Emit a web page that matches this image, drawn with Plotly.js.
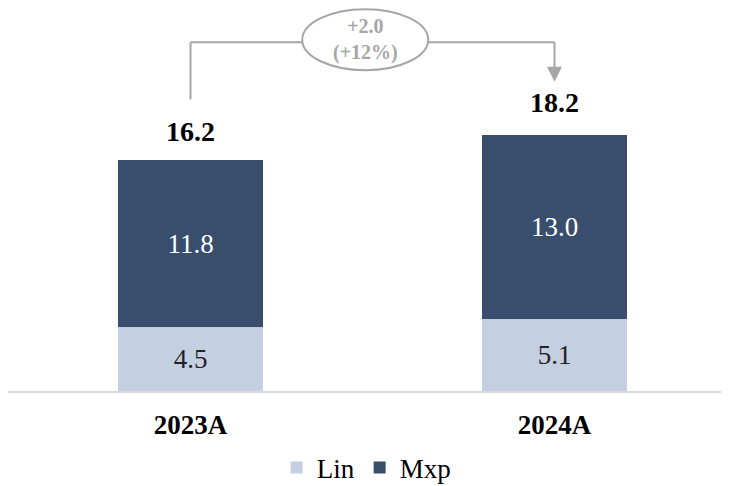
<!DOCTYPE html>
<html>
<head>
<meta charset="utf-8">
<script src="https://cdn.plot.ly/plotly-3.0.1.min.js"></script>
<style>
  html, body { margin: 0; padding: 0; background: #ffffff; }
  #chart { width: 729px; height: 486px; }
</style>
</head>
<body>
<div id="chart"></div>
<script>
// Revenue split by segment, two fiscal years
const years = ['2023A', '2024A'];
const linValues = [4.5, 5.1];
const mxpValues = [11.8, 13.0];
const totals = [16.2, 18.2];
const seriesNames = ['Lin', 'Mxp'];

const LIN_COLOR = '#c4cfe1';
const MXP_COLOR = '#394d6d';
const GREY = '#a6a6a6';
const FONT = '"Times New Roman", "Liberation Serif", Tinos, serif';

const traces = [
  {
    type: 'bar', name: seriesNames[0], x: years, y: linValues,
    marker: { color: LIN_COLOR }, width: 0.4,
    text: linValues.map(v => v.toFixed(1)), textposition: 'inside',
    insidetextanchor: 'middle',
    textfont: { family: FONT, size: 27, color: '#222222' },
    hoverinfo: 'none'
  },
  {
    type: 'bar', name: seriesNames[1], x: years, y: mxpValues,
    marker: { color: MXP_COLOR }, width: 0.4,
    text: mxpValues.map(v => v.toFixed(1)), textposition: 'inside',
    insidetextanchor: 'middle',
    textfont: { family: FONT, size: 27, color: '#ffffff' },
    hoverinfo: 'none'
  }
];

// Year-over-year change shown in the bracket callout
const delta = totals[1] - totals[0];
const pct = Math.round(delta / totals[0] * 100);
const deltaLabel = '+' + delta.toFixed(1) + '<br>(+' + pct + '%)';

// Bracket geometry (value units above each total)
const bracketY = Math.max(...totals) + 6.45;
const leftStart = totals[0] + 4.4;
const arrowBase = totals[1] + 4.7;
const arrowTip = totals[1] + 3.65;
const midX = 0.48;

const annotations = totals.map((t, i) => ({
  x: years[i], y: t, xref: 'x', yref: 'y',
  text: '<b>' + t.toFixed(1) + '</b>', showarrow: false,
  yanchor: 'bottom', yshift: 13,
  font: { family: FONT, size: 28, color: '#000000' }
}));
annotations.push({
  x: midX, y: bracketY, xref: 'x', yref: 'y',
  text: '<b>' + deltaLabel + '</b>', showarrow: false,
  yanchor: 'middle', yshift: 3,
  font: { family: FONT, size: 20, color: GREY }
});

const shapes = [
  { type: 'line', xref: 'x', yref: 'y', x0: 0, x1: 0, y0: leftStart, y1: bracketY,
    line: { color: GREY, width: 2 } },
  { type: 'line', xref: 'x', yref: 'y', x0: 0, x1: 1, y0: bracketY, y1: bracketY,
    line: { color: GREY, width: 2 } },
  { type: 'line', xref: 'x', yref: 'y', x0: 1, x1: 1, y0: bracketY, y1: arrowBase,
    line: { color: GREY, width: 2 } },
  { type: 'path', xref: 'x', yref: 'y', xsizemode: 'pixel', ysizemode: 'pixel',
    xanchor: 1, yanchor: arrowTip,
    path: 'M -7.5 15 L 7.5 15 L 0 0 Z',
    fillcolor: GREY, line: { color: GREY, width: 0 } },
  { type: 'circle', xref: 'x', yref: 'y', xsizemode: 'pixel', ysizemode: 'pixel',
    xanchor: midX, yanchor: bracketY,
    x0: -63, x1: 63, y0: -28, y1: 33,
    fillcolor: '#ffffff', line: { color: GREY, width: 2 } }
];

const layout = {
  width: 729, height: 486,
  margin: { l: 8, r: 8, t: 0, b: 95, autoexpand: false },
  paper_bgcolor: '#ffffff', plot_bgcolor: '#ffffff',
  barmode: 'stack',
  uniformtext: { mode: false },
  font: { family: FONT, color: '#000000' },
  xaxis: {
    type: 'category', range: [-0.5014, 1.4574], automargin: false,
    showline: true, linecolor: '#d9d9d9', linewidth: 2,
    showgrid: false, zeroline: false, ticks: '',
    ticklabelstandoff: 9,
    tickfont: { family: FONT, size: 27, color: '#000000', weight: 'bold' },
    fixedrange: true
  },
  yaxis: {
    range: [0, 27.63], visible: false, showgrid: false, zeroline: false,
    automargin: false, fixedrange: true
  },
  showlegend: true,
  legend: {
    orientation: 'h', x: 0.503, xanchor: 'center', y: -0.197, yanchor: 'middle',
    font: { family: FONT, size: 27, color: '#000000' },
    traceorder: 'normal', itemclick: false, itemdoubleclick: false
  },
  annotations: annotations,
  shapes: shapes
};

Plotly.newPlot('chart', traces, layout, { displayModeBar: false, staticPlot: true });
</script>
</body>
</html>
